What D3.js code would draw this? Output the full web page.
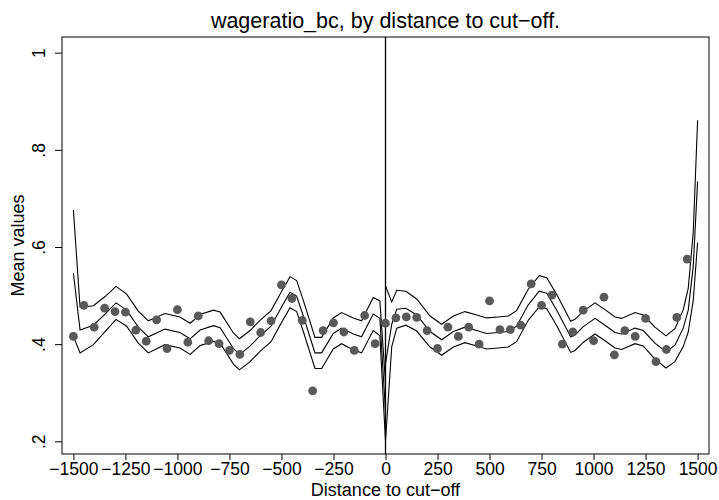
<!DOCTYPE html>
<html>
<head>
<meta charset="utf-8">
<script src="https://cdn.jsdelivr.net/npm/d3@7"></script>
<style>
  body { margin: 0; background: #fff; }
  text { font-family: "Liberation Sans", Arial, Helvetica, sans-serif; fill: #000; }
</style>
</head>
<body>
<svg id="chart" width="719" height="500"></svg>
<script>
// binned means, left and right of the cut-off
var leftBins = [-1500,-1450,-1400,-1350,-1300,-1250,-1200,-1150,-1100,-1050,-1000,-950,-900,-850,-800,
                -750,-700,-650,-600,-550,-500,-450,-400,-350,-300,-250,-200,-150,-100,-50];
var leftMeans = [.416,.480,.435,.474,.467,.466,.429,.406,.450,.391,.471,.404,.458,.407,.401,
                 .387,.379,.446,.424,.448,.522,.494,.449,.304,.428,.444,.425,.387,.459,.401];

var rightBins = [0,50,100,150,200,250,300,350,400,450,500,550,600,650,700,
                 750,800,850,900,950,1000,1050,1100,1150,1200,1250,1300,1350,1400,1450];
var rightMeans = [.443,.454,.456,.455,.428,.391,.435,.416,.435,.400,.489,.430,.430,.439,.524,
                  .480,.501,.400,.425,.470,.407,.497,.378,.428,.416,.453,.364,.389,.455,.575];

// local fit with confidence band (fit value and half width)
var leftFitX = [-1500,-1468,-1404,-1348,-1295,-1244,-1188,-1140,-1060,-988,-939,-891,-827,-795,-731,-702,
                -651,-603,-550,-499,-459,-427,-395,-339,-307,-251,-211,-155,-115,-59,-27,0];
var leftFit = [.546,.429,.439,.462,.485,.470,.435,.415,.431,.424,.411,.429,.438,.434,.391,.379,
               .396,.417,.437,.477,.507,.499,.458,.382,.382,.422,.433,.421,.415,.462,.453,.26];
var leftHw = [.13,.047,.040,.036,.034,.033,.033,.033,.032,.032,.032,.032,.032,.032,.032,.032,
              .032,.032,.032,.032,.032,.032,.032,.032,.032,.032,.032,.033,.033,.034,.036,.06];

var rightFitX = [0,30,54,98,150,214,270,326,382,438,486,542,590,630,686,739,775,823,890,911,
                 951,1007,1055,1103,1135,1199,1239,1295,1348,1391,1431,1455,1479,1500];
var rightFit = [.36,.441,.472,.474,.460,.426,.409,.426,.435,.428,.422,.424,.426,.437,.481,.509,.505,.470,.415,.419,
                .436,.453,.439,.424,.421,.433,.428,.402,.384,.398,.433,.47,.56,.735];
var rightHw = [.16,.046,.039,.035,.033,.032,.032,.032,.032,.032,.032,.032,.032,.032,.032,.032,.032,.032,.032,.032,
               .032,.032,.032,.032,.032,.032,.032,.033,.033,.034,.038,.045,.07,.126];

var xTicks = [-1500,-1250,-1000,-750,-500,-250,0,250,500,750,1000,1250,1500];
var yTicks = [.2,.4,.6,.8,1];
var yTickLabels = [".2",".4",".6",".8","1"];

var svg = d3.select("#chart");

var frame = {left: 62, right: 709, top: 37, bottom: 454};

var x = d3.scaleLinear().domain([-1500, 1500]).range([73.4, 697.6]);
var y = d3.scaleLinear().domain([0.2, 1]).range([441.3, 52.7]);

// frame
svg.append("rect")
  .attr("x", frame.left).attr("y", frame.top)
  .attr("width", frame.right - frame.left)
  .attr("height", frame.bottom - frame.top)
  .attr("fill", "none")
  .attr("stroke", "#000")
  .attr("stroke-width", 1);

// x axis
var xAxis = d3.axisBottom(x).tickValues(xTicks).tickSize(6).tickPadding(3)
  .tickFormat(function(d){ return d < 0 ? "\u2212" + Math.abs(d) : d; });
var gx = svg.append("g")
  .attr("transform", "translate(0," + frame.bottom + ")")
  .call(xAxis);
gx.select(".domain").remove();
gx.selectAll("text").attr("font-size", 17.5).attr("font-family", "Liberation Sans, Arial, sans-serif");

// y axis with rotated labels
var yAxis = d3.axisLeft(y).tickValues(yTicks).tickSize(7)
  .tickFormat(function(d, i){ return yTickLabels[i]; });
var gy = svg.append("g")
  .attr("transform", "translate(" + frame.left + ",0)")
  .call(yAxis);
gy.select(".domain").remove();
gy.selectAll("text")
  .attr("x", null).attr("dy", null)
  .attr("text-anchor", "middle")
  .attr("font-size", 17.5)
  .attr("font-family", "Liberation Sans, Arial, sans-serif")
  .attr("transform", "translate(-17,0) rotate(-90)");

// cut-off line
svg.append("line")
  .attr("x1", x(0)).attr("x2", x(0))
  .attr("y1", frame.top).attr("y2", frame.bottom)
  .attr("stroke", "#000").attr("stroke-width", 1.3);

// fitted lines
function band(xs, fit, hw, k) {
  return xs.map(function(v, i){ return {x: v, y: fit[i] + k * hw[i]}; });
}
var line = d3.line().x(d => x(d.x)).y(d => y(d.y));

var fits = [
  [leftFitX, leftFit, leftHw],
  [rightFitX, rightFit, rightHw]
];
var gl = svg.append("g").attr("fill", "none").attr("stroke", "#000").attr("stroke-width", 1.1);
fits.forEach(function(f){
  [-1, 0, 1].forEach(function(k){
    gl.append("path").attr("d", line(band(f[0], f[1], f[2], k)));
  });
});

// binned means
var pts = leftBins.map((v, i) => ({x: v, y: leftMeans[i]}))
  .concat(rightBins.map((v, i) => ({x: v, y: rightMeans[i]})));
svg.append("g")
  .selectAll("circle")
  .data(pts)
  .join("circle")
    .attr("cx", d => x(d.x))
    .attr("cy", d => y(d.y))
    .attr("r", 4.4)
    .attr("fill", "#595959");

// titles
svg.append("text")
  .attr("x", (frame.left + frame.right) / 2).attr("y", 28)
  .attr("text-anchor", "middle").attr("font-size", 21.5)
  .text("wageratio_bc, by distance to cut\u2212off.");

svg.append("text")
  .attr("x", (frame.left + frame.right) / 2).attr("y", 496)
  .attr("text-anchor", "middle").attr("font-size", 18)
  .text("Distance to cut\u2212off");

svg.append("text")
  .attr("transform", "translate(24," + ((frame.top + frame.bottom) / 2) + ") rotate(-90)")
  .attr("text-anchor", "middle").attr("font-size", 18)
  .text("Mean values");
</script>
</body>
</html>
